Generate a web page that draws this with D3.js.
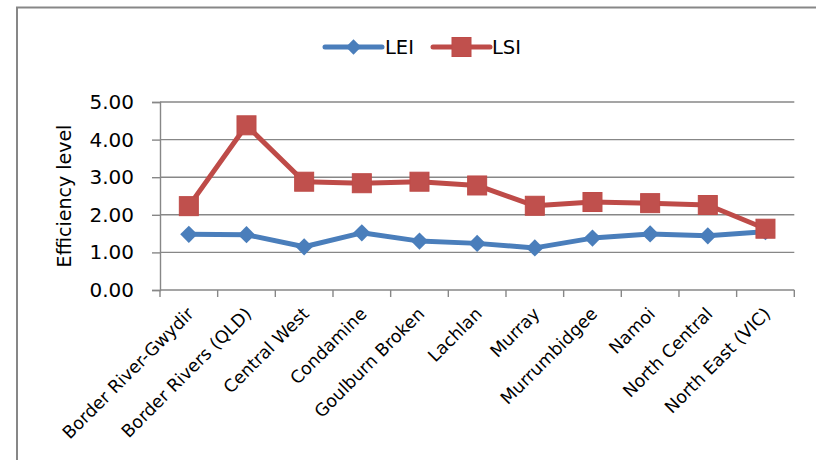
<!DOCTYPE html>
<html>
<head>
<meta charset="utf-8">
<script src="https://cdn.jsdelivr.net/npm/d3@7"></script>
<style>
  html, body { margin: 0; padding: 0; background: #fff; }
  svg { display: block; font-family: "DejaVu Sans", sans-serif; }
</style>
</head>
<body>
<svg id="chart" width="816" height="460"></svg>
<script>
// Catchment regions along the x axis
const categories = [
  "Border River-Gwydir", "Border Rivers (QLD)", "Central West", "Condamine",
  "Goulburn Broken", "Lachlan", "Murray", "Murrumbidgee", "Namoi",
  "North Central", "North East (VIC)"
];
// Efficiency series
const lei = [1.48, 1.47, 1.15, 1.52, 1.30, 1.24, 1.12, 1.38, 1.49, 1.44, 1.55];
const lsi = [2.23, 4.38, 2.88, 2.84, 2.88, 2.78, 2.24, 2.34, 2.31, 2.26, 1.63];
const yTicks = [0, 1, 2, 3, 4, 5];
const seriesNames = ["LEI", "LSI"];

const blue = "#4a7ebb", red = "#be4b48", grid = "#878787";

const svg = d3.select("#chart");

// Outer chart frame
svg.append("rect")
  .attr("x", 17).attr("y", 7.5).attr("width", 820).attr("height", 470)
  .attr("fill", "none").attr("stroke", grid).attr("stroke-width", 2);

const plot = { left: 160, right: 794.3, top: 102, bottom: 290 };

const x = d3.scaleBand().domain(categories).range([plot.left, plot.right]);
const y = d3.scaleLinear().domain([0, 5]).range([plot.bottom, plot.top]);

// Horizontal gridlines
svg.append("g").selectAll("line").data(yTicks.filter(d => d > 0)).join("line")
  .attr("x1", plot.left).attr("x2", plot.right)
  .attr("y1", d => y(d)).attr("y2", d => y(d))
  .attr("stroke", grid).attr("stroke-width", 1.4);

// Y axis
const yAxis = svg.append("g")
  .attr("transform", `translate(${plot.left},0)`)
  .call(d3.axisLeft(y).tickValues(yTicks).tickSize(8).tickPadding(18)
    .tickFormat(d3.format(".2f")));
yAxis.select(".domain").attr("stroke", grid).attr("stroke-width", 1.4);
yAxis.selectAll(".tick line").attr("stroke", grid).attr("stroke-width", 1.4);
yAxis.selectAll(".tick text")
  .attr("font-size", 20).attr("fill", "#000")
  .attr("font-family", "DejaVu Sans, sans-serif");

// X axis: ticks sit on category boundaries
const xb = svg.append("g").attr("transform", `translate(0,${plot.bottom})`);
xb.append("line").attr("x1", plot.left).attr("x2", plot.right)
  .attr("stroke", grid).attr("stroke-width", 1.4);
const bounds = categories.map(c => x(c)).concat([plot.right]);
xb.selectAll("line.tk").data(bounds).join("line").attr("class", "tk")
  .attr("x1", d => d).attr("x2", d => d).attr("y1", 0).attr("y2", 7)
  .attr("stroke", grid).attr("stroke-width", 1.4);
xb.selectAll("text").data(categories).join("text")
  .attr("transform", d => `translate(${x(d) + x.bandwidth() / 2 + 6},${25}) rotate(-45)`)
  .attr("text-anchor", "end")
  .attr("font-size", 17.5)
  .attr("fill", "#000")
  .text(d => d);

// Y axis title
svg.append("text")
  .attr("transform", `translate(71,196) rotate(-90)`)
  .attr("text-anchor", "middle")
  .attr("font-size", 19)
  .attr("fill", "#000")
  .text("Efficiency level");

const cx = d => x(d) + x.bandwidth() / 2;
const line = d3.line().x(d => cx(d[0])).y(d => y(d[1]));

// LEI series
svg.append("path")
  .datum(categories.map((c, i) => [c, lei[i]]))
  .attr("d", line).attr("fill", "none")
  .attr("stroke", blue).attr("stroke-width", 5).attr("stroke-linejoin", "round");
svg.append("g").selectAll("path").data(categories.map((c, i) => [c, lei[i]])).join("path")
  .attr("d", d3.symbol(d3.symbolDiamond2, 190)())
  .attr("transform", d => `translate(${cx(d[0])},${y(d[1])})`)
  .attr("fill", blue);

// LSI series
svg.append("path")
  .datum(categories.map((c, i) => [c, lsi[i]]))
  .attr("d", line).attr("fill", "none")
  .attr("stroke", red).attr("stroke-width", 5).attr("stroke-linejoin", "round");
svg.append("g").selectAll("rect").data(categories.map((c, i) => [c, lsi[i]])).join("rect")
  .attr("x", d => cx(d[0]) - 9.5).attr("y", d => y(d[1]) - 9.5)
  .attr("width", 19).attr("height", 19)
  .attr("fill", "#c0504d").attr("stroke", red).attr("stroke-width", 1);

// Legend
const legendY = 47;
const legend = svg.append("g");
const items = [
  { name: seriesNames[0], color: blue, x0: 325, x1: 382, textX: 385 },
  { name: seriesNames[1], color: red, x0: 433, x1: 490, textX: 492 }
];
items.forEach((it, i) => {
  legend.append("line")
    .attr("x1", it.x0).attr("x2", it.x1).attr("y1", legendY).attr("y2", legendY)
    .attr("stroke", it.color).attr("stroke-width", 5).attr("stroke-linecap", "round");
  const mx = (it.x0 + it.x1) / 2;
  if (i === 0) {
    legend.append("path")
      .attr("d", d3.symbol(d3.symbolDiamond2, 150)())
      .attr("transform", `translate(${mx},${legendY})`)
      .attr("fill", it.color);
  } else {
    legend.append("rect")
      .attr("x", mx - 9.5).attr("y", legendY - 9.5).attr("width", 19).attr("height", 19)
      .attr("fill", "#c0504d").attr("stroke", it.color);
  }
  legend.append("text")
    .attr("x", it.textX).attr("y", legendY + 7)
    .attr("font-size", 19.5).attr("fill", "#000")
    .text(it.name);
});
</script>
</body>
</html>
